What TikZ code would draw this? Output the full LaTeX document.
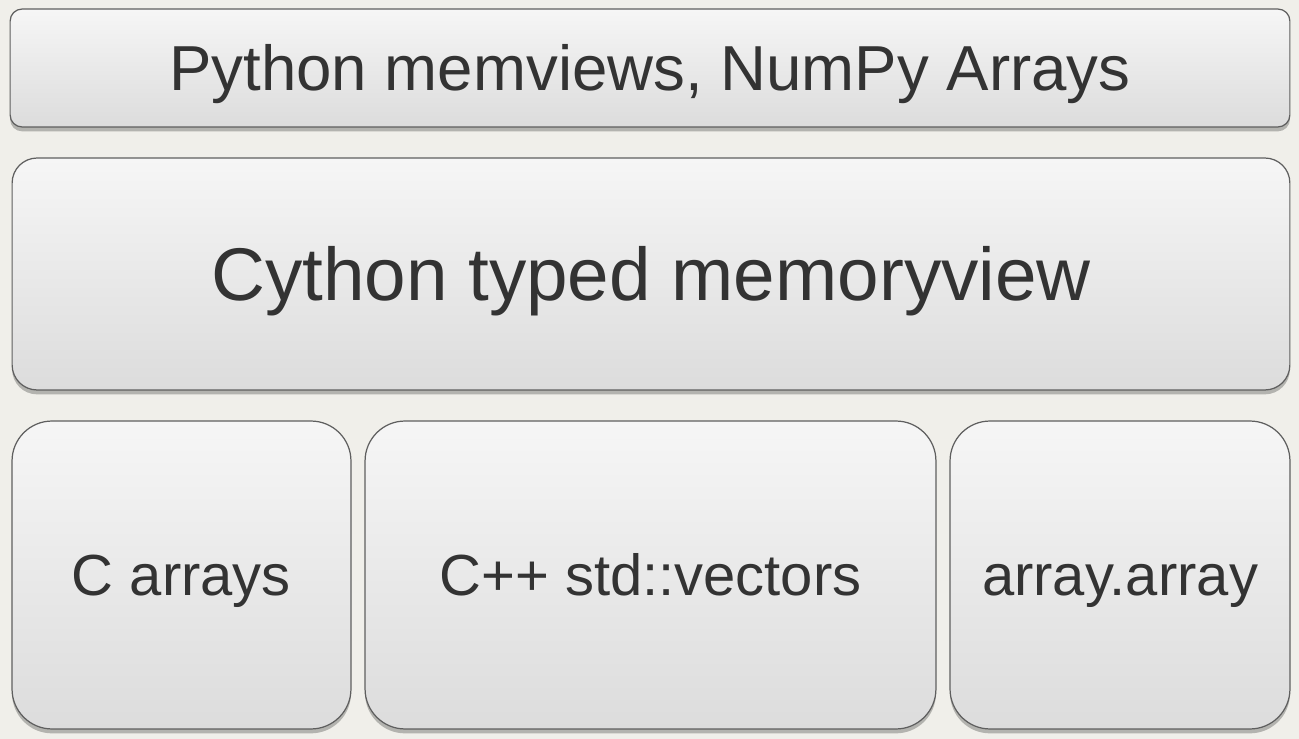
\documentclass[tikz,border=0pt]{standalone}
\usepackage{fontspec}
\setmainfont{Liberation Sans}
\usepackage{xcolor}
\usepackage{tikz}
\definecolor{papercolor}{RGB}{240, 239, 234}
\definecolor{boxtop}{RGB}{246, 246, 246}
\definecolor{boxbottom}{RGB}{220, 220, 220}
\definecolor{edgecolor}{RGB}{95, 95, 95}
\definecolor{textcolor}{RGB}{51, 51, 51}
\usetikzlibrary{positioning, shadows, backgrounds}

\begin{document}
\begin{tikzpicture}[
    x=0.02cm, y=-0.02cm,
    layerbox/.style={rectangle, draw=edgecolor, line width=0.7pt, top color=boxtop, bottom color=boxbottom, text=textcolor, inner sep=0pt, align=center, text depth=0pt,
        drop shadow={shadow xshift=0pt, shadow yshift=-2.5pt, fill=black, opacity=0.25}},
    bigtext/.style={font=\fontsize{36.2}{40}\selectfont, text height=26pt},
    hugetext/.style={font=\fontsize{42.5}{48}\selectfont, text height=30.4pt},
    smalltext/.style={font=\fontsize{33}{38}\selectfont, text height=23.6pt}
]
    \fill[papercolor] (0,0) rectangle (1299,739);
    \useasboundingbox (0,0) rectangle (1299,739);

    \node[layerbox, bigtext, rounded corners=0.24cm, minimum width=25.6cm, minimum height=2.36cm] (pyarrays) at (650,68) {Python memviews, NumPy Arrays};

    \node[layerbox, hugetext, rounded corners=0.5cm, minimum width=25.56cm, minimum height=4.64cm] (typedmv) at (651,274) {Cython typed memoryview};

    \node[layerbox, smalltext, rounded corners=0.8cm, minimum width=6.78cm, minimum height=6.16cm] (carrays) at (181.5,575) {C arrays};
    \node[layerbox, smalltext, rounded corners=0.8cm, minimum width=11.42cm, minimum height=6.16cm] (cppvec) at (650.5,575) {C++ std::vectors};
    \node[layerbox, smalltext, rounded corners=0.8cm, minimum width=6.8cm, minimum height=6.16cm] (pyarray) at (1120,575) {array.array};
\end{tikzpicture}
\end{document}
